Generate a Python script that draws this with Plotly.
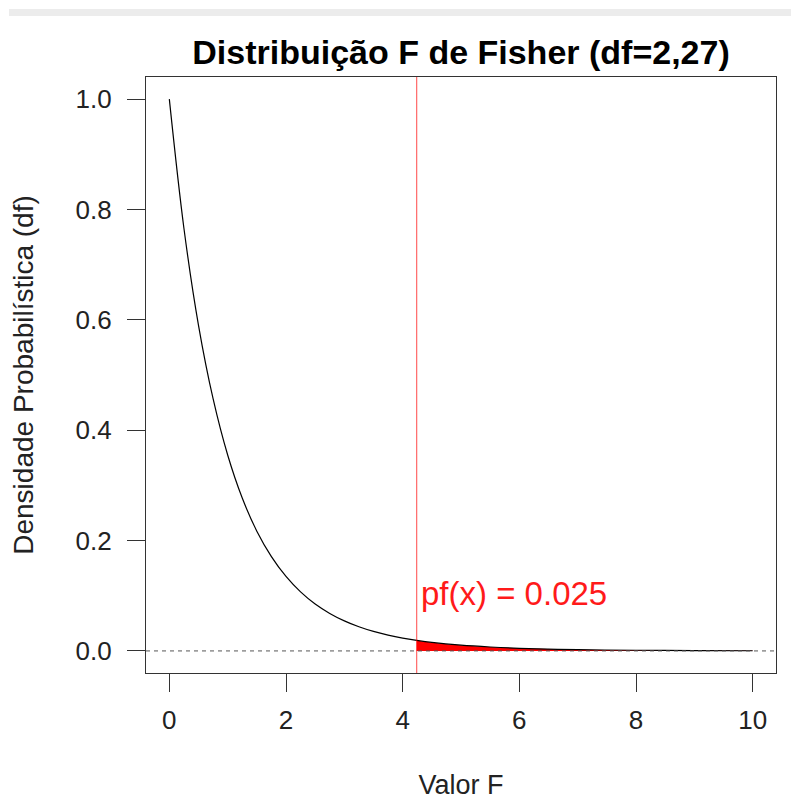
import plotly.graph_objects as go

# Values
f_values = [0, 0.25, 0.5, 0.75, 1.0, 1.25, 1.5, 1.75, 2.0, 2.25, 2.5, 2.75, 3.0,
            3.25, 3.5, 3.75, 4.0, 4.24, 4.5, 5.0, 5.5, 6.0, 7.0, 8.0, 9.0, 10.0]
density = [1.0, 0.766, 0.590, 0.457, 0.355, 0.277, 0.217, 0.171, 0.135, 0.107,
           0.085, 0.068, 0.0545, 0.0438, 0.0353, 0.0286, 0.0232, 0.0191, 0.0154,
           0.0104, 0.0071, 0.0048, 0.0023, 0.0012, 0.0006, 0.0003]
f_critical = 4.24
p_label = "pf(x) = 0.025"
x_ticks = [0, 2, 4, 6, 8, 10]
y_ticks = [0.0, 0.2, 0.4, 0.6, 0.8, 1.0]

tail_x = [x for x in f_values if x >= f_critical]
tail_y = [d for x, d in zip(f_values, density) if x >= f_critical]

FONT = "Liberation Sans, Arial, Helvetica, sans-serif"
W, H = 799, 802
L, R, T, B = 138, 31, 69, 137
PW, PH = W - L - R, H - T - B


def px_x(p):
    return (p - L) / PW


def px_y(p):
    return (H - B - p) / PH


fig = go.Figure()
fig.add_trace(go.Scatter(x=tail_x, y=tail_y, mode="lines", fill="tozeroy",
                         fillcolor="#ff0000", line=dict(width=0, color="#ff0000"),
                         line_shape="spline", hoverinfo="skip", showlegend=False))
fig.add_trace(go.Scatter(x=f_values, y=density, mode="lines",
                         line=dict(color="black", width=1.2, shape="spline", smoothing=1),
                         showlegend=False))

# light gray frame strip along the top as in the reference screenshot
fig.add_shape(type="rect", xref="paper", yref="paper",
              x0=px_x(1), x1=px_x(W - 2), y0=px_y(8), y1=px_y(1),
              fillcolor="#ececec", line=dict(width=0), layer="below")
# dashed zero line
fig.add_shape(type="line", xref="paper", yref="y", x0=0, x1=1, y0=0, y1=0,
              line=dict(color="#555555", width=1, dash="4px,4px"))
# critical value line
fig.add_shape(type="line", xref="x", yref="paper", x0=f_critical, x1=f_critical, y0=0, y1=1,
              line=dict(color="rgba(255,0,0,0.6)", width=1.2))

fig.add_annotation(x=f_critical, y=0.104, xref="x", yref="y", text=p_label,
                   showarrow=False, xanchor="left", yanchor="middle", xshift=2,
                   font=dict(family=FONT, size=33, color="#ff1a1a"))

fig.update_layout(
    width=W, height=H,
    margin=dict(l=L, r=R, t=T, b=B),
    paper_bgcolor="white", plot_bgcolor="white",
    font=dict(family=FONT, color="#222222"),
    title=dict(text="<b>Distribuição F de Fisher (df=2,27)</b>", x=0.5, xref="paper",
               y=1 - 44 / H, yanchor="middle", font=dict(size=34, color="black")),
)
fig.update_xaxes(range=[-0.4, 10.4], tickvals=x_ticks, ticktext=[str(v) for v in x_ticks],
                 showgrid=False, zeroline=False, showline=True, mirror=True,
                 linecolor="#333333", linewidth=1.2, ticks="outside", ticklen=18,
                 tickcolor="#333333", tickfont=dict(size=26), ticklabelstandoff=6,
                 title=dict(text="Valor F", font=dict(size=27), standoff=40))
fig.update_yaxes(range=[-0.04, 1.04], tickvals=y_ticks, ticktext=[f"{v:.1f}" for v in y_ticks],
                 showgrid=False, zeroline=False, showline=True, mirror=True,
                 linecolor="#333333", linewidth=1.2, ticks="outside", ticklen=18,
                 tickcolor="#333333", tickfont=dict(size=26), ticklabelstandoff=10,
                 title=dict(text="Densidade Probabilística (df)", font=dict(size=28), standoff=33))

fig.write_html("out.html")
